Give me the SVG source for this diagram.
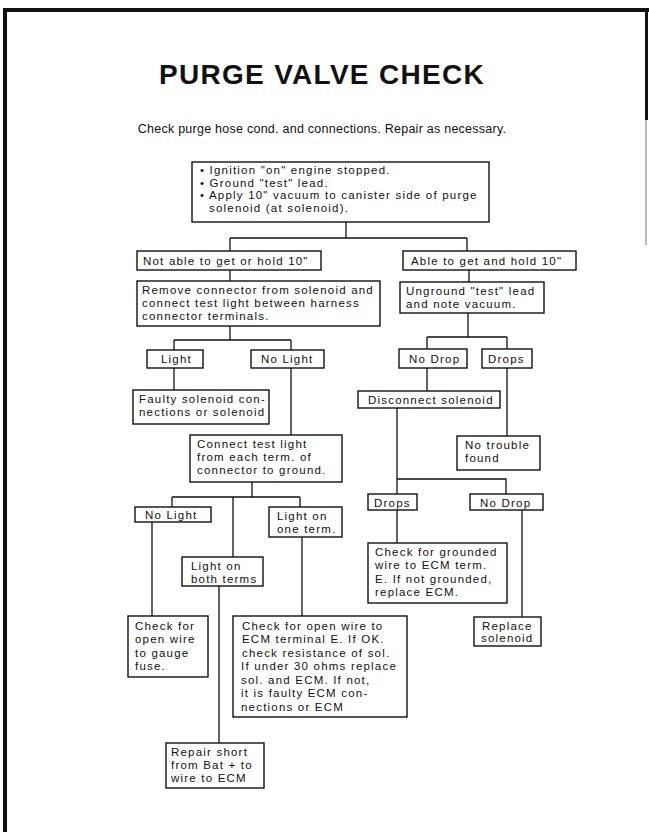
<svg xmlns="http://www.w3.org/2000/svg" width="649" height="832" viewBox="0 0 649 832">
  <style>
    .box { fill: #fff; stroke: #111; stroke-width: 1.4; }
    .wire { fill: none; stroke: #111; stroke-width: 1.3; }
    .t { font-family: "Liberation Sans", Arial, sans-serif; font-size: 11.5px; letter-spacing: 1.2px; fill: #111; }
    .title { font-family: "Liberation Sans", Arial, sans-serif; font-size: 28px; letter-spacing: 1.3px; font-weight: bold; fill: #111; }
    .sub { font-family: "Liberation Sans", Arial, sans-serif; font-size: 12.5px; letter-spacing: 0.25px; fill: #111; }
  </style>

  <rect width="649" height="832" fill="#fff"/>

  <!-- page frame -->
  <g id="frame" fill="#111">
    <rect x="3" y="8" width="646" height="4"/>
    <rect x="3" y="8" width="4" height="824"/>
    <rect x="645" y="8" width="3" height="112"/>
    <rect x="645.5" y="120" width="1" height="125" fill="#777"/>
  </g>

  <text class="title" x="322" y="84" text-anchor="middle">PURGE VALVE CHECK</text>
  <text class="sub" x="322" y="133" text-anchor="middle">Check purge hose cond. and connections. Repair as necessary.</text>

  <!-- connectors -->
  <g id="connectors" class="wire">
    <path d="M346 222V238M230 238H467M230 238V251M467 238V251"/>
    <path d="M230 270V281"/>
    <path d="M469 270V282"/>
    <path d="M230 326V340M174 340H291M174 340V350M291 340V350"/>
    <path d="M468 313V337M427 337H507M427 337V349M507 337V349"/>
    <path d="M174 368V390"/>
    <path d="M291 368V435"/>
    <path d="M427 368V391"/>
    <path d="M507 368V436"/>
    <path d="M397 408V494M397 479H506V494"/>
    <path d="M252 482V497M172 497H300M172 497V507M300 497V507M233 497V557"/>
    <path d="M152 522V616"/>
    <path d="M302 537V616"/>
    <path d="M219 586V743"/>
    <path d="M397 510V543"/>
    <path d="M522 510V617"/>
  </g>

  <g id="start">
    <rect class="box" x="192" y="162" width="297" height="60"/>
    <text class="t" x="200" y="174">• Ignition "on" engine stopped.</text>
    <text class="t" x="200" y="186.7">• Ground "test" lead.</text>
    <text class="t" x="200" y="199.4">• Apply 10" vacuum to canister side of purge</text>
    <text class="t" x="209" y="212">solenoid (at solenoid).</text>
  </g>

  <g id="not-able">
    <rect class="box" x="137" y="251" width="184" height="19"/>
    <text class="t" x="143" y="265">Not able to get or hold 10"</text>
  </g>

  <g id="able">
    <rect class="box" x="403" y="251" width="173" height="19"/>
    <text class="t" x="411" y="265">Able to get and hold 10"</text>
  </g>

  <g id="remove-connector">
    <rect class="box" x="137" y="281" width="243" height="45"/>
    <text class="t" x="142" y="294">Remove connector from solenoid and</text>
    <text class="t" x="142" y="307">connect test light between harness</text>
    <text class="t" x="142" y="320">connector terminals.</text>
  </g>

  <g id="unground">
    <rect class="box" x="400" y="282" width="144" height="31"/>
    <text class="t" x="406" y="295">Unground "test" lead</text>
    <text class="t" x="406" y="308">and note vacuum.</text>
  </g>

  <g id="light">
    <rect class="box" x="147" y="350" width="56" height="18"/>
    <text class="t" x="161" y="363">Light</text>
  </g>

  <g id="no-light">
    <rect class="box" x="251" y="350" width="73" height="18"/>
    <text class="t" x="261" y="363">No Light</text>
  </g>

  <g id="no-drop">
    <rect class="box" x="399" y="349" width="68" height="19"/>
    <text class="t" x="409" y="363">No Drop</text>
  </g>

  <g id="drops">
    <rect class="box" x="482" y="349" width="50" height="19"/>
    <text class="t" x="488" y="363">Drops</text>
  </g>

  <g id="faulty-solenoid">
    <rect class="box" x="133" y="390" width="136" height="34"/>
    <text class="t" x="139" y="403">Faulty solenoid con-</text>
    <text class="t" x="139" y="416">nections or solenoid</text>
  </g>

  <g id="disconnect">
    <rect class="box" x="358" y="391" width="142" height="17"/>
    <text class="t" x="368" y="404">Disconnect solenoid</text>
  </g>

  <g id="no-trouble">
    <rect class="box" x="457" y="436" width="83" height="34"/>
    <text class="t" x="465" y="449">No trouble</text>
    <text class="t" x="465" y="462">found</text>
  </g>

  <g id="connect-ground">
    <rect class="box" x="190" y="435" width="152" height="47"/>
    <text class="t" x="197" y="448">Connect test light</text>
    <text class="t" x="197" y="461">from each term. of</text>
    <text class="t" x="197" y="474">connector to ground.</text>
  </g>

  <g id="drops-2">
    <rect class="box" x="368" y="494" width="49" height="16"/>
    <text class="t" x="374" y="506.5">Drops</text>
  </g>

  <g id="no-drop-2">
    <rect class="box" x="470" y="494" width="73" height="16"/>
    <text class="t" x="480" y="506.5">No Drop</text>
  </g>

  <g id="no-light-2">
    <rect class="box" x="135" y="507" width="76" height="15"/>
    <text class="t" x="145" y="519">No Light</text>
  </g>

  <g id="light-one-term">
    <rect class="box" x="269" y="507" width="73" height="30"/>
    <text class="t" x="277" y="519.5">Light on</text>
    <text class="t" x="277" y="532.5">one term.</text>
  </g>

  <g id="light-both-terms">
    <rect class="box" x="182" y="557" width="81" height="29"/>
    <text class="t" x="191" y="569.5">Light on</text>
    <text class="t" x="191" y="582.5">both terms</text>
  </g>

  <g id="check-grounded">
    <rect class="box" x="368" y="543" width="139" height="60"/>
    <text class="t" x="375" y="556">Check for grounded</text>
    <text class="t" x="375" y="569">wire to ECM term.</text>
    <text class="t" x="375" y="583">E. If not grounded,</text>
    <text class="t" x="375" y="596">replace ECM.</text>
  </g>

  <g id="replace-solenoid">
    <rect class="box" x="474" y="617" width="67" height="29"/>
    <text class="t" x="482" y="629.5">Replace</text>
    <text class="t" x="481" y="642">solenoid</text>
  </g>

  <g id="open-wire-fuse">
    <rect class="box" x="128" y="616" width="80" height="61"/>
    <text class="t" x="135" y="630">Check for</text>
    <text class="t" x="135" y="643">open wire</text>
    <text class="t" x="135" y="657">to gauge</text>
    <text class="t" x="135" y="670">fuse.</text>
  </g>

  <g id="open-wire-ecm">
    <rect class="box" x="233" y="616" width="174" height="101"/>
    <text class="t" x="242" y="630">Check for open wire to</text>
    <text class="t" x="242" y="643">ECM terminal E. If OK.</text>
    <text class="t" x="242" y="657">check resistance of sol.</text>
    <text class="t" x="241" y="670">If under 30 ohms replace</text>
    <text class="t" x="241" y="684">sol. and ECM. If not,</text>
    <text class="t" x="241" y="697">it is faulty ECM con-</text>
    <text class="t" x="241" y="711">nections or ECM</text>
  </g>

  <g id="repair-short">
    <rect class="box" x="166" y="743" width="98" height="45"/>
    <text class="t" x="171" y="756">Repair short</text>
    <text class="t" x="171" y="769">from Bat + to</text>
    <text class="t" x="171" y="782">wire to ECM</text>
  </g>
</svg>
